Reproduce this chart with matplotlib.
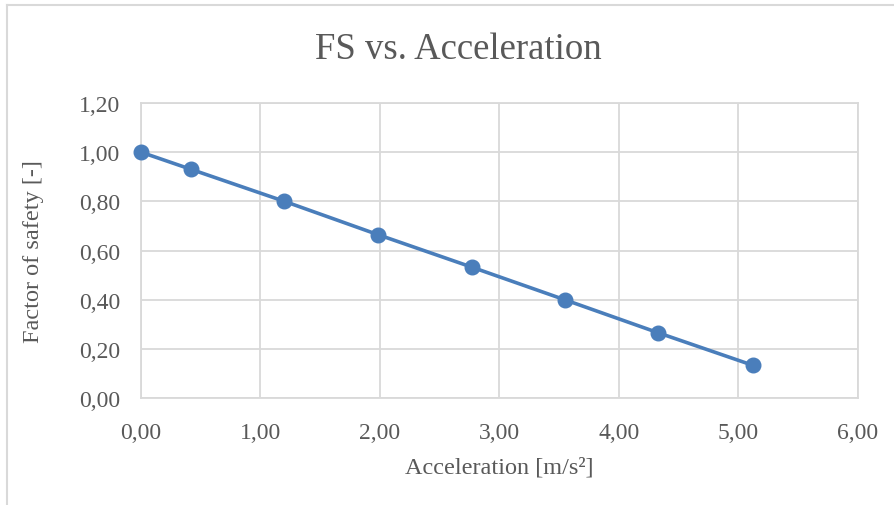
import matplotlib
matplotlib.use("Agg")
import matplotlib.pyplot as plt
from matplotlib.lines import Line2D
from matplotlib.ticker import FuncFormatter

acceleration = [0.0, 0.42, 1.20, 1.98, 2.77, 3.55, 4.33, 5.12]
factor_of_safety = [1.0, 0.93, 0.80, 0.665, 0.532, 0.399, 0.265, 0.133]
x_ticks = [0, 1, 2, 3, 4, 5, 6]
y_ticks = [0, 0.2, 0.4, 0.6, 0.8, 1.0, 1.2]

plt.rcParams['font.family'] = ['Liberation Serif', 'DejaVu Serif']
gray = '#595959'
grid = '#d9d9d9'
blue = '#4a7ebb'

fig = plt.figure(figsize=(8.95, 5.06), dpi=100)
ax = fig.add_axes([141/895, 1-399/506, (858-141)/895, (399-104)/506])

ax.plot(acceleration, factor_of_safety, color=blue, lw=2.6, marker='o',
        markersize=10.5, markerfacecolor=blue, markeredgecolor=blue, zorder=3,
        clip_on=False)

ax.set_xlim(0, 6)
ax.set_ylim(0, 1.2)
ax.set_xticks(x_ticks)
ax.set_yticks(y_ticks)
fmt = FuncFormatter(lambda v, p: f"{v:.2f}".replace('.', ','))
ax.xaxis.set_major_formatter(fmt)
ax.yaxis.set_major_formatter(fmt)
ax.grid(True, color=grid, lw=1.3)
ax.set_axisbelow(True)
for s in ax.spines.values():
    s.set_color(grid)
    s.set_linewidth(1.3)
ax.tick_params(length=0, labelsize=17, colors=gray)
ax.tick_params(axis='x', pad=17)
ax.tick_params(axis='y', pad=15)

ax.set_xlabel('Acceleration [m/s²]', fontsize=17.5, color=gray, labelpad=10)
ax.set_ylabel('Factor of safety [-]', fontsize=17.5, color=gray, labelpad=25)
fig.text(458/895, 1-50/506, 'FS vs. Acceleration', fontsize=26.5, color=gray,
         ha='center', va='center')

# outer chart border (top and left visible)
fig.add_artist(Line2D([7/895, 1], [1-6/506, 1-6/506], transform=fig.transFigure,
                      color=grid, lw=1.5))
fig.add_artist(Line2D([7/895, 7/895], [0, 1-6/506], transform=fig.transFigure,
                      color=grid, lw=1.5))

fig.savefig('out.png', dpi=100)
